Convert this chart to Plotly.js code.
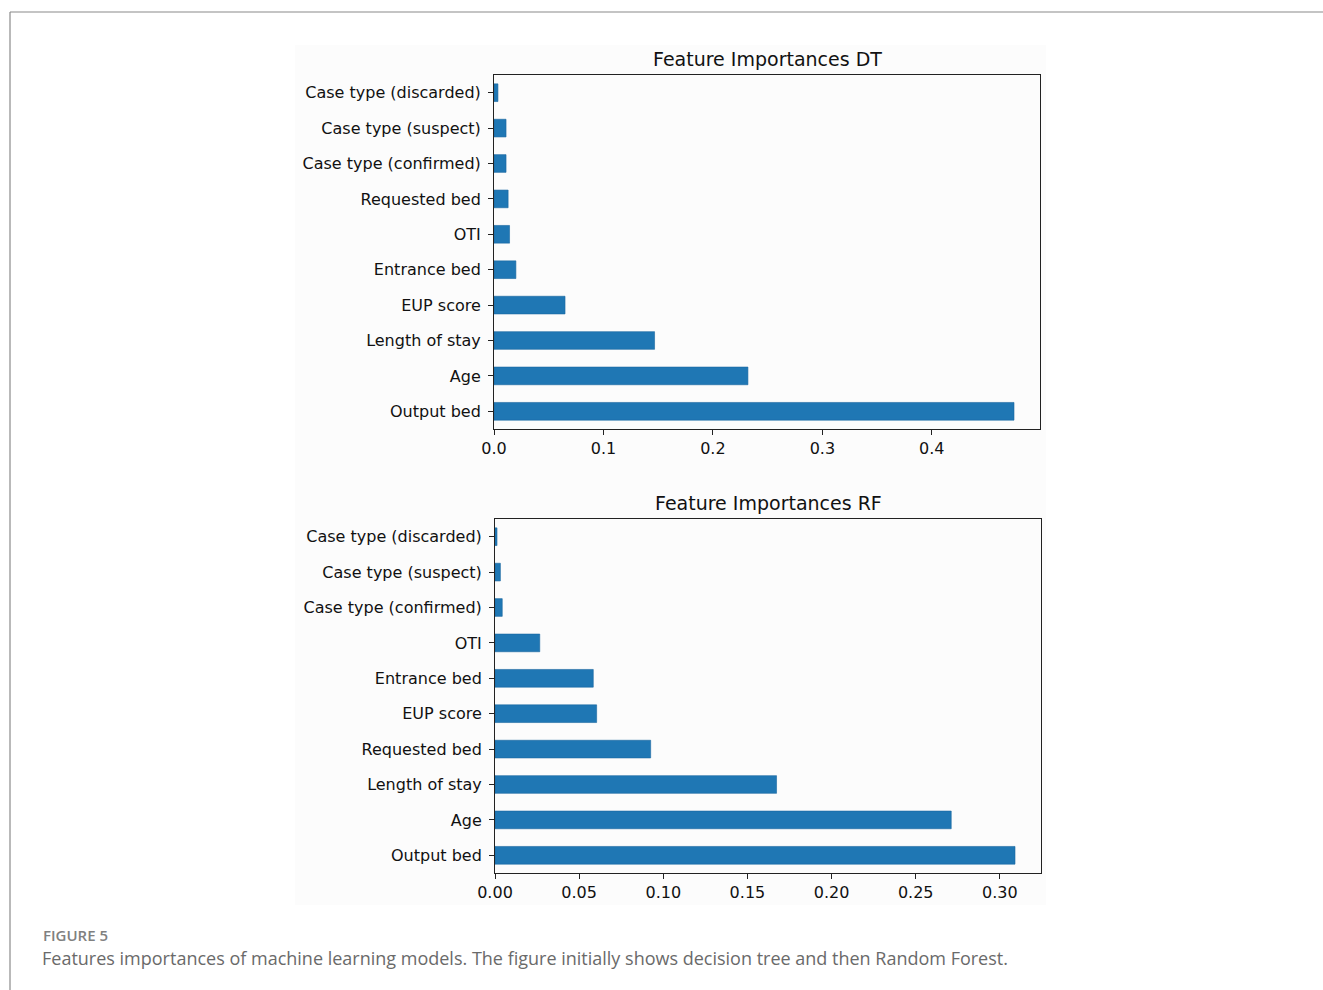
<!DOCTYPE html>
<html>
<head>
<meta charset="utf-8">
<script src="https://cdn.plot.ly/plotly-3.0.1.min.js"></script>
<style>html,body{margin:0;padding:0;background:#fff;}#chart{width:1323px;height:990px;}</style>
</head>
<body>
<div id="chart"></div>
<script>
// Decision Tree feature importances (bottom to top)
const dtFeatures = ["Output bed", "Age", "Length of stay", "EUP score", "Entrance bed", "OTI", "Requested bed", "Case type (confirmed)", "Case type (suspect)", "Case type (discarded)"];
const dtValues = [0.4751, 0.232, 0.1467, 0.0649, 0.0200, 0.0142, 0.0129, 0.0110, 0.0110, 0.0036];

// Random Forest feature importances (bottom to top)
const rfFeatures = ["Output bed", "Age", "Length of stay", "Requested bed", "EUP score", "Entrance bed", "OTI", "Case type (confirmed)", "Case type (suspect)", "Case type (discarded)"];
const rfValues = [0.3090, 0.2711, 0.1673, 0.0925, 0.0604, 0.0584, 0.0266, 0.0043, 0.0032, 0.0012];

const dtTitle = "Feature Importances DT";
const rfTitle = "Feature Importances RF";
const figLabel = "FIGURE 5";
const caption = "Features importances of machine learning models. The figure initially shows decision tree and then Random Forest.";

const W = 1323, H = 990;
const px = v => v / W;
const py = v => 1 - v / H;

const barColor = "#1f77b4";
const tickFont = {family: "DejaVu Sans, sans-serif", size: 16, color: "#111"};

const traces = [
  {type: "bar", orientation: "h", x: dtValues, y: dtFeatures, width: 0.5,
   marker: {color: barColor, line: {color: "#1a66a0", width: 0.6}},
   xaxis: "x", yaxis: "y", hoverinfo: "x+y", showlegend: false},
  {type: "bar", orientation: "h", x: rfValues, y: rfFeatures, width: 0.5,
   marker: {color: barColor, line: {color: "#1a66a0", width: 0.6}},
   xaxis: "x2", yaxis: "y2", hoverinfo: "x+y", showlegend: false}
];

function xAx(domain, maxV, dtick, fmt, anchor) {
  return {domain: domain, anchor: anchor, range: [0, maxV * 1.05], dtick: dtick, tick0: 0,
    tickformat: fmt, showgrid: false, zeroline: false, showline: true, linecolor: "#222",
    linewidth: 1, mirror: true, ticks: "outside", ticklen: 5, tickcolor: "#222",
    tickfont: tickFont, fixedrange: true};
}
function yAx(domain, cats, anchor) {
  return {domain: domain, anchor: anchor, type: "category", categoryorder: "array",
    categoryarray: cats, range: [-0.5, cats.length - 0.5], showgrid: false, zeroline: false,
    showline: true, linecolor: "#222", linewidth: 1, mirror: true, ticks: "outside",
    ticklen: 5, tickcolor: "#222", tickfont: tickFont, ticklabelstandoff: 4, fixedrange: true};
}

const layout = {
  width: W, height: H,
  margin: {l: 0, r: 0, t: 0, b: 0},
  paper_bgcolor: "#ffffff",
  plot_bgcolor: "rgba(0,0,0,0)",
  bargap: 0,
  xaxis: xAx([px(494), px(1040)], Math.max(...dtValues), 0.1, ".1f", "y"),
  yaxis: yAx([py(429), py(75)], dtFeatures, "x"),
  xaxis2: xAx([px(495), px(1041)], Math.max(...rfValues), 0.05, ".2f", "y2"),
  yaxis2: yAx([py(873), py(519)], rfFeatures, "x2"),
  shapes: [
    {type: "rect", xref: "paper", yref: "paper", x0: px(295), x1: px(1046), y0: py(905), y1: py(45),
     fillcolor: "#fcfcfc", line: {width: 0}, layer: "below"},
    {type: "line", xref: "paper", yref: "paper", x0: px(10), x1: 1, y0: py(12), y1: py(12),
     line: {color: "#8a8a8a", width: 1.2}},
    {type: "line", xref: "paper", yref: "paper", x0: px(10), x1: px(10), y0: py(12), y1: 0,
     line: {color: "#8a8a8a", width: 1.2}}
  ],
  annotations: [
    {text: dtTitle, xref: "paper", yref: "paper", x: px(767), y: py(59), xanchor: "center", yanchor: "middle",
     showarrow: false, font: {family: "DejaVu Sans, sans-serif", size: 19, color: "#111"}},
    {text: rfTitle, xref: "paper", yref: "paper", x: px(768), y: py(503), xanchor: "center", yanchor: "middle",
     showarrow: false, font: {family: "DejaVu Sans, sans-serif", size: 19, color: "#111"}},
    {text: figLabel, xref: "paper", yref: "paper", x: px(41), y: py(935), xanchor: "left", yanchor: "middle",
     showarrow: false, font: {family: "Open Sans, sans-serif", size: 15, color: "#808080", weight: 600}},
    {text: caption, xref: "paper", yref: "paper", x: px(40), y: py(958), xanchor: "left", yanchor: "middle",
     showarrow: false, font: {family: "Open Sans, sans-serif", size: 18, color: "#6a6a6a"}}
  ]
};

Plotly.newPlot("chart", traces, layout, {displayModeBar: false, staticPlot: true});
</script>
</body>
</html>
